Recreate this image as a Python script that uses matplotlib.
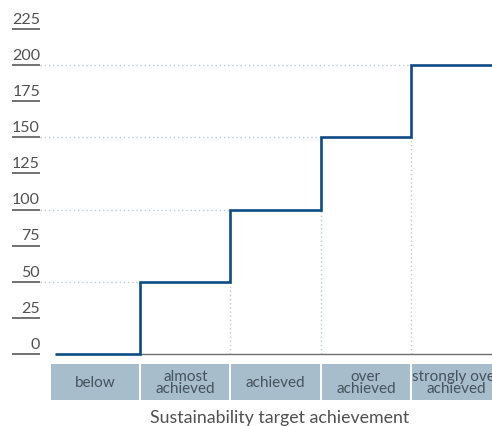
import matplotlib
matplotlib.use("Agg")
import matplotlib.pyplot as plt
import numpy as np

# step values per achievement category
categories = ["below", "almost\nachieved", "achieved", "over\nachieved", "strongly over\nachieved"]
payout = [0, 50, 100, 150, 200]
yticks = [0, 25, 50, 75, 100, 125, 150, 175, 200, 225]
xlabel = "Sustainability target achievement"

LINE = "#0d4a86"
BOX = "#a7bdcc"
GRID = "#b9cad8"
TEXT = "#505050"
BOX_TEXT = "#46525c"
TICK = "#4a4a4a"

plt.rcParams["font.family"] = ["Lato", "DejaVu Sans"]

fig = plt.figure(figsize=(4.92, 4.27), dpi=100, facecolor="white")
ax = fig.add_axes([0, 0, 1, 1])
ax.set_xlim(-0.554, 4.898)
ax.set_ylim(-49.8, 245.7)
ax.axis("off")

n = len(payout)
edges = np.arange(n + 1, dtype=float)
tick_x0, tick_x1 = -0.421, -0.111

# y-axis: underlined tick labels
for v in yticks:
    ax.plot([tick_x0, tick_x1], [v, v], color=TICK, lw=1.1, solid_capstyle="butt")
    ax.annotate(str(v), (tick_x1, v), xytext=(0, 4.5), textcoords="offset points",
                ha="right", va="baseline", color=TEXT, fontsize=11.5)

# dotted guides: horizontal to each step, vertical below each riser
for i in range(1, n):
    ax.plot([tick_x1, edges[i]], [payout[i], payout[i]], color=GRID, lw=1,
            ls=(0, (1, 2)), zorder=1)
    if i > 1:
        ax.plot([edges[i], edges[i]], [0, payout[i - 1]], color=GRID, lw=1,
                ls=(0, (1, 2)), zorder=1)

# baseline under the steps
ax.plot([edges[1], ax.get_xlim()[1]], [0, 0], color="#707070", lw=1, zorder=2)

# step line
step_edges = edges.copy()
step_edges[0] = 0.055
ax.stairs(payout, step_edges, baseline=None, color=LINE, lw=1.9, zorder=3)

# category boxes
box_bottom, box_top = -31.8, -6.9
for i, cat in enumerate(categories):
    ax.bar(i + 0.5, box_top - box_bottom, width=0.978, bottom=box_bottom,
           color=BOX, edgecolor="none", zorder=2)
    ax.text(i + 0.5, (box_top + box_bottom) / 2, cat, ha="center", va="center",
            color=BOX_TEXT, fontsize=11, linespacing=0.9)

ax.text(2.54, -43.8, xlabel, ha="center", va="center", color=TEXT, fontsize=12.8)

fig.savefig("out.png", dpi=100, facecolor="white")
